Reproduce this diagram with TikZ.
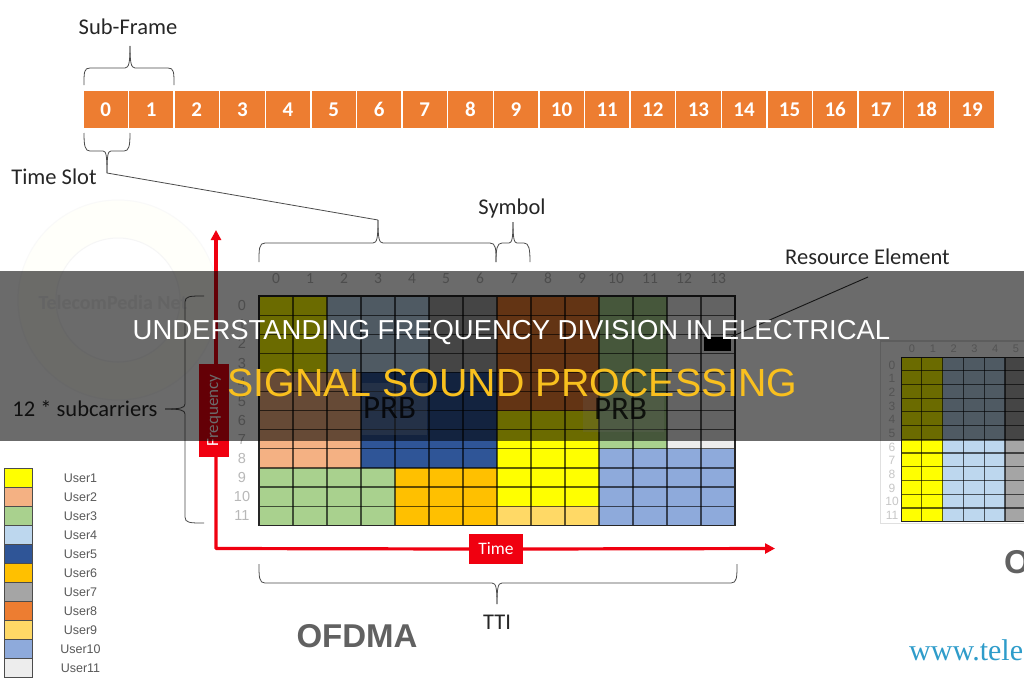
\documentclass[tikz,border=0pt]{standalone}
\usepackage{fontspec}
\setmainfont{Carlito}
\newfontfamily\arialf{Liberation Sans}
\newfontfamily\serf{Liberation Serif}
\usetikzlibrary{arrows.meta,calc}
\definecolor{uA}{HTML}{FFFF00}
\definecolor{uB}{HTML}{F4B183}
\definecolor{uC}{HTML}{A9D18E}
\definecolor{uD}{HTML}{BDD7EE}
\definecolor{uE}{HTML}{2F5597}
\definecolor{uF}{HTML}{FFC000}
\definecolor{uG}{HTML}{A5A5A5}
\definecolor{uH}{HTML}{ED7D31}
\definecolor{uI}{HTML}{FFD966}
\definecolor{uJ}{HTML}{8EAADB}
\definecolor{uK}{HTML}{EDEDED}
\definecolor{redx}{HTML}{F00010}
\definecolor{titley}{HTML}{F9C01E}
\definecolor{wwwc}{HTML}{2E9CCA}
\tikzset{
  x=1pt,y=-1pt,
  slotbox/.style={fill=uH,draw=none,minimum width=44.2pt,minimum height=37pt,inner sep=0pt,text=white,text height=14pt,text depth=0pt,font=\fontsize{21}{22}\selectfont\bfseries},
  callout/.style={inner sep=0pt,text=black!85,font=\fontsize{22.5}{24}\selectfont},
  bracep/.style={draw=black!70,line width=.8pt,line join=round},
  collab/.style={inner sep=0pt,text=black!28,text height=10pt,text depth=0pt,font=\fontsize{15.5}{16}\selectfont},
  rowlab/.style={inner sep=0pt,text=black!28,text height=10.5pt,text depth=0pt,font=\arialf\fontsize{14.5}{15}\selectfont},
  legendbox/.style={draw=black!70,line width=.8pt,minimum width=28pt,minimum height=19pt,inner sep=0pt},
  legendlab/.style={inner sep=0pt,text=black!65,font=\arialf\fontsize{12.5}{13}\selectfont},
  axisline/.style={draw=redx,line width=3.2pt},
  redbox/.style={fill=redx,inner sep=0pt,text=white,font=\fontsize{17.5}{18}\selectfont},
  gridline/.style={draw=black,opacity=.62,line width=1.2pt},
  prbbox/.style={fill=white,fill opacity=.2,draw=none,inner sep=0pt},
  prblab/.style={inner sep=0pt,text=black,text opacity=.8,font=\fontsize{33}{34}\selectfont},
}
% \blk{col0}{col1}{row0}{row1}{colour}: block of cells on the main grid
\newcommand{\blk}[5]{\fill[#5] ({259+34*#1},{296+19.1*#3}) rectangle ({259+34*(#2+1)},{296+19.1*(#4+1)});}
\newcommand{\miniblk}[5]{\fill[#5] ({901+20.8*#1},{357+13.72*#3}) rectangle ({901+20.8*(#2+1)},{357+13.72*(#4+1)});}
\begin{document}
\begin{tikzpicture}
\useasboundingbox (0,0) rectangle (1024,680);
\fill[white] (0,0) rectangle (1024,680);
\begin{scope}
\clip (0,0) rectangle (1024,680);

% watermark
\draw[draw=black!2.5,fill=yellow!2,line width=1pt] (118,300) circle[radius=100];
\draw[draw=black!3.5,fill=white,line width=1pt] (118,300) circle[radius=62];
\node (wm) at (113,303) [inner sep=0pt,text=black!6,font=\fontsize{20}{21}\selectfont\bfseries] {TelecomPedia Net};

% top bar
\foreach \i in {0,...,19}{
  \node[slotbox] (s\i) at ({105.6+45.6*\i},109.5) {\i};
}

% main grid
\blk{0}{1}{0}{3}{uA}
\blk{2}{4}{0}{3}{uD}
\blk{5}{6}{0}{3}{uG}
\blk{0}{2}{4}{8}{uB}
\blk{3}{6}{4}{8}{uE}
\blk{0}{3}{9}{11}{uC}
\blk{4}{6}{9}{11}{uF}
\blk{7}{9}{0}{5}{uH}
\blk{7}{9}{6}{10}{uA}
\blk{7}{9}{11}{11}{uI}
\blk{10}{11}{0}{7}{uC}
\blk{12}{13}{0}{7}{uK}
\blk{10}{13}{8}{11}{uJ}
\foreach \c in {1,...,13}{\draw[gridline] ({259+34*\c},296) -- ({259+34*\c},525.2);}
\foreach \r in {1,...,11}{\draw[gridline] (259,{296+19.1*\r}) -- (735,{296+19.1*\r});}
\draw[draw=black!85,line width=1.2pt] (259,296) rectangle (735,525.2);
\foreach \c in {0,...,13}{\node[collab] (cl\c) at ({276+34*\c},278) {\c};}
\foreach \r in {0,...,11}{\node[rowlab] (rl\r) at (242,{305.5+19.1*\r}) {\r};}

% PRB overlays
\node[prbbox,minimum width=65pt,minimum height=52pt] (prbA) at (394.5,409) {};
\node[prblab] (prbAt) at (389.6,408) {PRB};
\node[prbbox,minimum width=81pt,minimum height=39pt] (prbB) at (623.5,412.5) {};
\node[prblab] (prbBt) at (620.5,409) {PRB};

% resource element
\node[fill=black,minimum width=27pt,minimum height=14pt,inner sep=0pt] (re) at (717.5,344) {};
\node[callout,anchor=west] (relab) at (785,257) {Resource Element};
\coordinate (reline) at (868,277);
\draw[draw=black!80,line width=.9pt] (re.north east) -- (reline);

% mini grid on the right
\draw[draw=black!12,line width=1.2pt] (1024,341) -- (880.5,341) -- (880.5,523.5) -- (1024,523.5);
\miniblk{0}{1}{0}{11}{uA}
\miniblk{2}{4}{0}{11}{uD}
\miniblk{5}{7}{0}{11}{uG}
\foreach \c in {1,...,6}{\draw[gridline] ({901+20.8*\c},357) -- ({901+20.8*\c},521.6);}
\foreach \r in {1,...,11}{\draw[gridline] (901,{357+13.72*\r}) -- (1024,{357+13.72*\r});}
\draw[draw=black!85,line width=1pt] (1024,357) -- (901,357) -- (901,521.6) -- (1024,521.6);
\foreach \c in {0,...,5}{\node[inner sep=0pt,text=black!22,text height=8pt,text depth=0pt,font=\arialf\fontsize{11}{12}\selectfont] (mc\c) at ({912+20.8*\c},348) {\c};}
\foreach \r in {0,...,11}{\node[inner sep=0pt,text=black!22,text height=8.6pt,text depth=0pt,font=\arialf\fontsize{12}{13}\selectfont] (mr\r) at (892,{365+13.64*\r}) {\r};}
\node[anchor=west,inner sep=0pt,text=black!62,font=\arialf\fontsize{33}{35}\selectfont\bfseries] (ofdmb) at (1004,562) {OFDMA};
\node[anchor=west,inner sep=0pt,text=wwwc,font=\serf\fontsize{30}{32}\selectfont] (www) at (909,653) {www.telecompedia.net};

% axes
\node[redbox,minimum width=30pt,minimum height=93pt] (freq) at (214,410.5) {\rotatebox{90}{\fontsize{17}{18}\selectfont Frequency}};
\node[redbox,minimum width=54pt,minimum height=30pt] (timeb) at (496,549) {Time};
\coordinate (origin) at (216,548.5);
\coordinate (ftip) at (216,230);
\coordinate (ttip) at (775,548.5);
\draw[axisline,line join=round] (freq.south -| origin) -- (origin) -- (timeb.west);
\draw[axisline,-{Triangle[length=10pt,width=10pt]}] (freq.north -| ftip) -- (ftip);
\draw[axisline,-{Triangle[length=10pt,width=10pt]}] (timeb.east) -- (ttip);

% braces and their labels
\node[callout] (subf) at (128,27) {Sub-Frame};
\coordinate (sfa) at (84,85);\coordinate (sfb) at (174,85);\coordinate (sft) at (130,46);
\draw[bracep] (sfa) .. controls (84,72) and (84,68) .. (90,68) -- (125,68) .. controls (129,68) and (130,62) .. (sft);
\draw[bracep] (sfb) .. controls (174,72) and (174,68) .. (168,68) -- (135,68) .. controls (131,68) and (130,62) .. (sft);

\node[callout] (tslot) at (54,177) {Time Slot};
\coordinate (tsa) at (84,133);\coordinate (tsb) at (130,133);\coordinate (tst) at (107,173);
\coordinate (bigt) at (378,220);
\draw[bracep] (tsa) .. controls (84,146) and (85,151) .. (90,151) -- (103,151) .. controls (106,151) and (107,155) .. (tst);
\draw[bracep] (tsb) .. controls (130,146) and (129,151) .. (124,151) -- (111,151) .. controls (108,151) and (107,155) .. (tst);
\draw[bracep] (tst) -- (bigt);

\coordinate (ba) at (259,262);\coordinate (bb) at (496,262);
\draw[bracep] (ba) .. controls (259,249) and (259,243) .. (265,243) -- (373,243) .. controls (377,243) and (378,238) .. (bigt);
\draw[bracep] (bb) .. controls (496,249) and (496,243) .. (490,243) -- (383,243) .. controls (379,243) and (378,238) .. (bigt);

\node[callout] (symb) at (512,208) {Symbol};
\coordinate (sya) at (496,262);\coordinate (syb) at (530,262);\coordinate (syt) at (513,222);
\draw[bracep] (sya) .. controls (496,249) and (497,243) .. (502,243) -- (509,243) .. controls (512,243) and (513,238) .. (syt);
\draw[bracep] (syb) .. controls (530,249) and (529,243) .. (524,243) -- (517,243) .. controls (514,243) and (513,238) .. (syt);

\node[callout] (tti) at (497,622) {TTI};
\coordinate (tta) at (259,564);\coordinate (ttb) at (737,564);\coordinate (ttt) at (497,604);
\draw[bracep] (tta) .. controls (259,577) and (259,583) .. (265,583) -- (492,583) .. controls (496,583) and (497,588) .. (ttt);
\draw[bracep] (ttb) .. controls (737,577) and (737,583) .. (731,583) -- (502,583) .. controls (498,583) and (497,588) .. (ttt);

\node[callout] (subc) at (85,409) {12 * subcarriers};
\coordinate (sca) at (204,296);\coordinate (scb) at (204,523);\coordinate (sct) at (165,409);
\draw[bracep] (sca) .. controls (190,296) and (185,296) .. (185,302) -- (185,404) .. controls (185,408) and (180,409) .. (sct);
\draw[bracep] (scb) .. controls (190,523) and (185,523) .. (185,517) -- (185,414) .. controls (185,410) and (180,409) .. (sct);

\node[inner sep=0pt,text=black!62,font=\arialf\fontsize{33}{35}\selectfont\bfseries] (ofdm) at (357,636) {OFDMA};

% legend
\foreach \n/\col [count=\k from 0] in {User1/uA,User2/uB,User3/uC,User4/uD,User5/uE,User6/uF,User7/uG,User8/uH,User9/uI,User10/uJ,User11/uK}{
  \node[legendbox,fill=\col] (lb\k) at (18,{477.5+19*\k}) {};
  \node[legendlab] (ll\k) at (80.5,{478.5+19*\k}) {\n};
}

% dark band and title
\fill[black,opacity=.58] (0,271) rectangle (1024,441);
\node[inner sep=0pt,text=white,font=\arialf\fontsize{27.45}{30}\selectfont] (ta) at (511.5,333) {UNDERSTANDING FREQUENCY DIVISION IN ELECTRICAL};
\node[inner sep=0pt,text=titley,font=\arialf\fontsize{39.3}{41}\selectfont] (tb) at (512.5,382.5) {SIGNAL SOUND PROCESSING};
\end{scope}
\end{tikzpicture}
\end{document}
